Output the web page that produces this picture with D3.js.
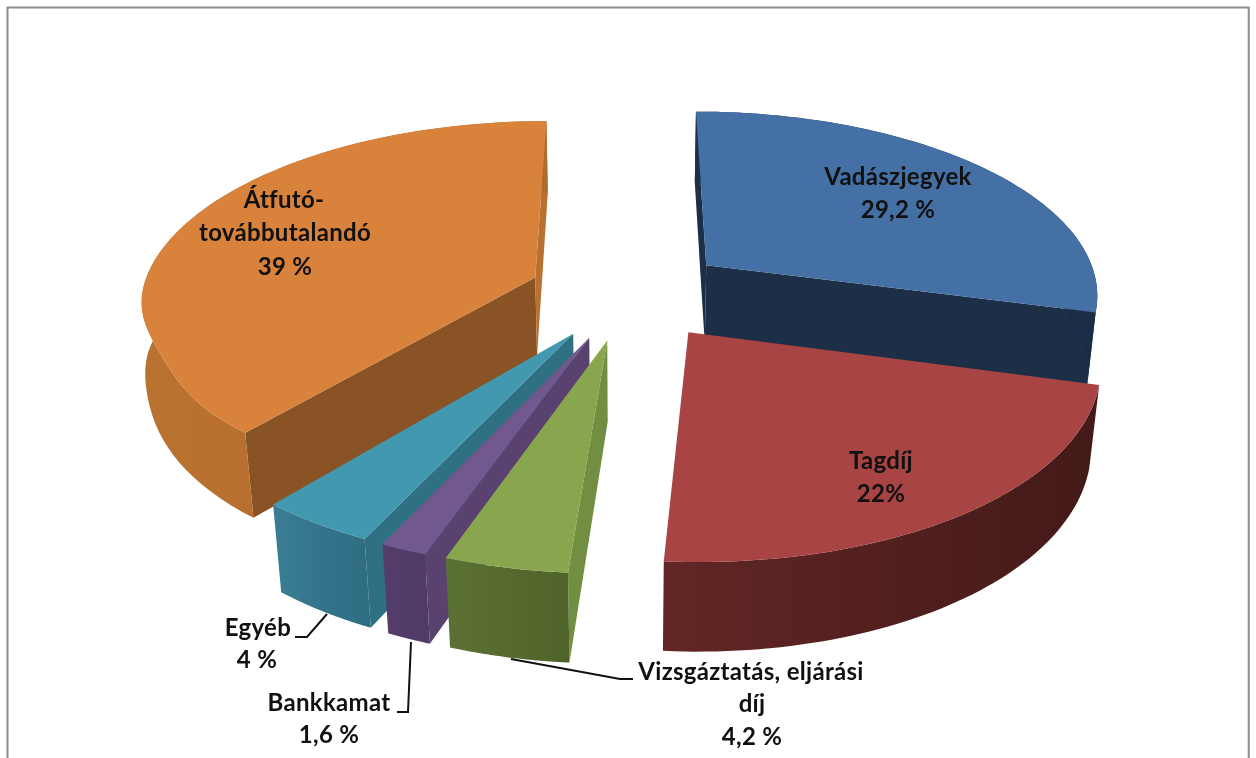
<!DOCTYPE html>
<html>
<head>
<meta charset="utf-8">
<script src="https://cdnjs.cloudflare.com/ajax/libs/d3/7.8.5/d3.min.js"></script>
<style>
html,body{margin:0;padding:0;background:#fff;overflow:hidden}
svg{display:block;filter:blur(0.45px)}
text{font-family:Lato,"Open Sans",sans-serif;font-weight:700;fill:#111;text-anchor:middle;letter-spacing:0.3px}
</style>
</head>
<body>
<svg id="c" width="1256" height="758"></svg>
<script>
// Data
const categories = ["Vadászjegyek","Tagdíj","Vizsgáztatás, eljárási díj","Bankkamat","Egyéb","Átfutó-továbbutalandó"];
const values = [29.2,22,4.2,1.6,4,39];
const valueLabels = ["29,2 %","22%","4,2 %","1,6 %","4 %","39 %"];

// Styling per slice
const topColors  = ["#4470a6","#a84443","#89a54e","#71588f","#4198af","#d9823c"];
const wallLeft   = ["#1d3049","#622625","#5c7134","#553d6c","#3a7d94","#b9722f"];
const wallRight  = ["#1b2d45","#431a18","#50632a","#4f3a63","#2e6c81","#b16a2e"];
const cutStart   = ["#1c2f47","#431a18","#728e40","#59426f","#2f7083","#8a5326"];
const cutEnd     = ["#1c2f47","#5f2524","#5c7134","#553d6c","#3a7d94","#b9712f"];
const rimTrim    = [0,0,0,0,0,0.02];
const rimBulge   = [0,0,0,0,0,0.025];
const drawOrder  = [5,0,1,4,3,2];

// Label layout: lines with centre x and baseline y
const labelLayout = [
  [[categories[0],898,185],[valueLabels[0],898,218]],
  [[categories[1],881,469],[valueLabels[1],881,502]],
  [["Vizsgáztatás, eljárási",751,680],["díj",752,712],[valueLabels[2],752,745]],
  [[categories[3],329,711],[valueLabels[3],329,743]],
  [[categories[4],258,636],[valueLabels[4],257,668]],
  [["Átfutó-",284,208],["továbbutalandó",285,241],[valueLabels[5],285,275]]
];
const leaders = [
  null,null,
  [[633,679],[620,679],[511,659]],
  [[397,712],[408,712],[411,642]],
  [[295,637],[307,637],[327,614]],
  null
];

// Projection of the tilted pie
const cx=628.5, cy=293, F=394, G=183.5, H=81, K=0.146, Q=0.02, EXPLODE=0.2545;
const START=-0.1*Math.PI/180;
function project(x,y,bottom){
  const w = 1 - K*y + (bottom?Q:0);
  return [cx + F*x/w, cy + (G*y + (bottom?H:0))/w];
}

const svg = d3.select("#c");
const defs = svg.append("defs");
const line = d3.line().curve(d3.curveLinearClosed);

svg.append("path")
  .attr("d","M7.5,760V7.5H1248.7V760")
  .attr("fill","none").attr("stroke","#8c8c8c").attr("stroke-width",2);

const arcs = d3.pie().sort(null).value(d=>d).startAngle(START).endAngle(START+2*Math.PI)(values);

drawOrder.forEach(i=>{
  const a = arcs[i];
  const mid = (a.startAngle+a.endAngle)/2;
  const ox = EXPLODE*Math.sin(mid), oy = -EXPLODE*Math.cos(mid);
  const rim = (t,r=1) => [ox+r*Math.sin(t), oy-r*Math.cos(t)];
  const deg = t => t*180/Math.PI;
  const trimAt = t => 1 - rimTrim[i]*Math.exp(-Math.pow((deg(t)-245)/13,2));
  const bulgeAt = t => 1 + rimBulge[i]*Math.exp(-Math.pow((deg(t)-275)/14,2));
  const angles = d3.range(0,61).map(d3.scaleLinear().domain([0,60]).range([a.startAngle,a.endAngle]));
  const topRim = angles.map(t=>project(...rim(t,trimAt(t)),false));
  const botRim = angles.map(t=>project(...rim(t,bulgeAt(t)),true));
  const apexT = project(ox,oy,false), apexB = project(ox,oy,true);
  const g = svg.append("g").attr("class","slice").attr("data-name",categories[i]);

  const startQuad=[apexT,topRim[0],botRim[0],apexB];
  const endQuad=[apexT,topRim[60],botRim[60],apexB];
  // d3.polygonArea is positive for counter-clockwise on screen
  if(d3.polygonArea(startQuad)>0) g.append("path").attr("d",line(startQuad)).attr("fill",cutStart[i]);
  if(d3.polygonArea(endQuad)<0) g.append("path").attr("d",line(endQuad)).attr("fill",cutEnd[i]);

  const xs = d3.extent(topRim.concat(botRim),p=>p[0]);
  const gid="wall"+i;
  const lg=defs.append("linearGradient").attr("id",gid).attr("gradientUnits","userSpaceOnUse")
    .attr("x1",xs[0]).attr("x2",xs[1]).attr("y1",0).attr("y2",0);
  lg.append("stop").attr("offset",0).attr("stop-color",wallLeft[i]);
  lg.append("stop").attr("offset",1).attr("stop-color",wallRight[i]);
  g.append("path").attr("d",line(topRim.concat(botRim.slice().reverse()))).attr("fill",`url(#${gid})`);

  g.append("path").attr("d",line([apexT].concat(topRim))).attr("fill",topColors[i]);
});

// Leader lines and labels
leaders.forEach(l=>{
  if(l) svg.append("path").attr("d",d3.line()(l)).attr("fill","none").attr("stroke","#111").attr("stroke-width",2);
});
labelLayout.forEach(lines=>{
  lines.forEach(([t,x,y])=>{
    svg.append("text").attr("x",x).attr("y",y).attr("font-size",24).text(t);
  });
});
</script>
</body>
</html>
